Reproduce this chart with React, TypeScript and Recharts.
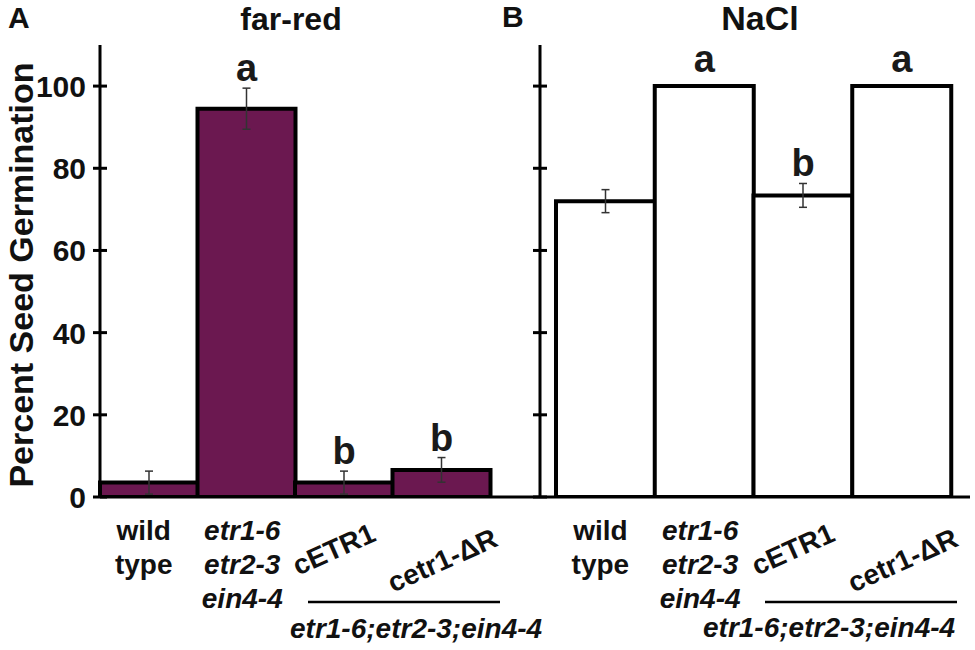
import React from 'react'
import { BarChart, Bar, XAxis, YAxis, ErrorBar, LabelList } from 'recharts'

// genotypes, same order in both panels
const categories = ['wt', 'triple', 'cETR1', 'cetr1-dR']
const tickLines: string[][] = [['wild', 'type'], ['etr1-6', 'etr2-3', 'ein4-4'], ['cETR1'], ['cetr1-ΔR']]
const yTicks = [0, 20, 40, 60, 80, 100]

// panel A: far-red
const farRedValues = [3.5, 94.5, 3.5, 6.6]
const farRedErrors = [2.8, 5, 2.8, 3]
const farRedLetters = ['', 'a', 'b', 'b']

// panel B: NaCl
const naclValues = [72, 100, 73.4, 100]
const naclErrors = [2.8, 0, 2.9, 0]
const naclLetters = ['', 'a', 'b', 'a']

const groupLabel = 'etr1-6;etr2-3;ein4-4'

const FONT = '"Liberation Sans", Arial, Helvetica, sans-serif'
const PURPLE = '#6b1850'

const farRedData = categories.map((c, i) => ({ name: c, value: farRedValues[i], err: farRedErrors[i], sig: farRedLetters[i] }))
const naclData = categories.map((c, i) => ({ name: c, value: naclValues[i], err: naclErrors[i], sig: naclLetters[i] }))

function CategoryTick(props: any) {
  const { x, y, payload } = props
  const i = categories.indexOf(payload.value)
  const lines = tickLines[i]
  const common = { fontFamily: FONT, fontWeight: 700, fontSize: 28, fill: '#111' }
  if (i === 0 || i === 1) {
    return (
      <g>
        {lines.map((l, k) => (
          <text key={k} x={i === 0 ? x - 5 : x - 4} y={y + 43 + k * 34} textAnchor="middle" {...common}
            fontStyle={i === 1 ? 'italic' : 'normal'}>
            {l}
          </text>
        ))}
      </g>
    )
  }
  const dx = i === 2 ? -6 : 5
  const dy = i === 2 ? 61 : 72
  return (
    <g transform={`translate(${x + dx},${y + dy}) rotate(-24)`}>
      <text x={0} y={0} textAnchor="middle" {...common}>{lines[0]}</text>
    </g>
  )
}

function makeYTick(showLabels: boolean) {
  return (props: any) => {
    const { x, y, payload } = props
    return (
      <g>
        <line x1={x - 7} x2={x + 7} y1={y} y2={y} stroke="#000" strokeWidth={3} />
        {showLabels && (
          <text x={x - 14} y={y + 11} textAnchor="end" fontFamily={FONT} fontWeight={700} fontSize={30} fill="#111">
            {payload.value}
          </text>
        )}
      </g>
    )
  }
}

function makeSig(values: number[], errs: number[], letters: string[]) {
  return (props: any) => {
    const { x, y, width, height, index } = props
    const letter = letters[index]
    if (!letter) return null
    const perUnit = height / values[index]
    const top = y - errs[index] * perUnit - (errs[index] > 0 ? 7 : 14)
    return (
      <text x={x + width / 2} y={top} textAnchor="middle" fontFamily={FONT} fontWeight={700} fontSize={38} fill="#1a1a1a">
        {letter}
      </text>
    )
  }
}

function Panel({ data, values, errs, letters, fill, showLabels, padding, width }: any) {
  return (
    <BarChart width={width} height={650} data={data} margin={{ top: 45, right: 5, left: 0, bottom: 0 }} barCategoryGap={0}>
      <XAxis
        dataKey="name"
        height={153}
        padding={padding}
        axisLine={{ stroke: '#000', strokeWidth: 3 }}
        tickLine={false}
        tickSize={0}
        tickMargin={0}
        interval={0}
        tick={<CategoryTick />}
      />
      <YAxis
        width={100}
        domain={[0, 110]}
        ticks={yTicks}
        allowDataOverflow
        axisLine={{ stroke: '#000', strokeWidth: 3 }}
        tickLine={false}
        tickSize={0}
        tickMargin={0}
        tick={makeYTick(showLabels)}
      />
      <Bar dataKey="value" fill={fill} stroke="#000" strokeWidth={4} isAnimationActive={false}>
        <ErrorBar dataKey="err" width={4} stroke="#333" strokeWidth={1.5} />
        <LabelList dataKey="sig" content={makeSig(values, errs, letters)} />
      </Bar>
    </BarChart>
  )
}

export default function App() {
  const txt = { fontFamily: FONT, fontWeight: 700, fill: '#111' }
  return (
    <div style={{ position: 'absolute', left: 0, top: 0, width: 975, height: 650, background: '#fff', overflow: 'hidden' }}>
      <div style={{ position: 'absolute', left: 0, top: 0 }}>
        <Panel data={farRedData} values={farRedValues} errs={farRedErrors} letters={farRedLetters}
          fill={PURPLE} showLabels padding={{ left: 0, right: 50 }} width={545} />
      </div>
      <div style={{ position: 'absolute', left: 440, top: 0 }}>
        <Panel data={naclData} values={naclValues} errs={naclErrors} letters={naclLetters}
          fill="#fff" showLabels={false} padding={{ left: 16, right: 19 }} width={535} />
      </div>
      <svg width={975} height={650} style={{ position: 'absolute', left: 0, top: 0, pointerEvents: 'none' }}>
        <text x={8} y={28} fontSize={30} {...txt}>A</text>
        <text x={502} y={27} fontSize={30} {...txt}>B</text>
        <text x={291} y={30} fontSize={32} textAnchor="middle" {...txt}>far-red</text>
        <text x={760} y={30} fontSize={34} textAnchor="middle" {...txt}>NaCl</text>
        <text transform="translate(33,275) rotate(-90)" fontSize={34} textAnchor="middle" {...txt}>
          Percent Seed Germination
        </text>
        <line x1={308} x2={500} y1={602} y2={602} stroke="#000" strokeWidth={2.5} />
        <line x1={765} x2={957} y1={602} y2={602} stroke="#000" strokeWidth={2.5} />
        <text x={290} y={638} fontSize={28} fontStyle="italic" {...txt}>{groupLabel}</text>
        <text x={703} y={637} fontSize={28} fontStyle="italic" {...txt}>{groupLabel}</text>
      </svg>
    </div>
  )
}
